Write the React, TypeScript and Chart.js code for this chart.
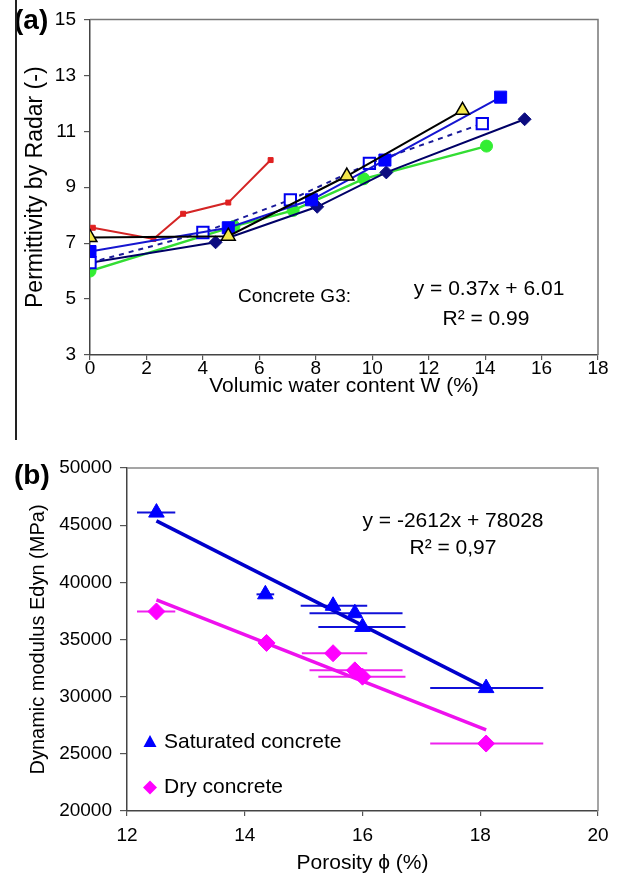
import React, { useEffect, useRef } from 'react';
import { Chart, registerables } from 'chart.js';

Chart.register(...registerables);

const FONT = '"Liberation Sans", Arial, Helvetica, sans-serif';

// ---------- Panel (a): permittivity vs water content ----------
const xTicksA = [0, 2, 4, 6, 8, 10, 12, 14, 16, 18];
const yTicksA = [3, 5, 7, 9, 11, 13, 15];

const redX = [0.1, 2.25, 3.3, 4.9, 6.4];
const redY = [7.55, 7.15, 8.05, 8.45, 9.97];
const triX = [0, 4.9, 9.1, 13.2];
const triY = [7.2, 7.25, 9.4, 11.75];
const sqX = [0, 4.9, 7.85, 10.45, 14.55];
const sqY = [6.7, 7.55, 8.55, 9.97, 12.22];
const openX = [0, 4.0, 7.1, 9.9, 13.9];
const openY = [6.3, 7.38, 8.55, 9.85, 11.27];
const diaX = [0, 4.45, 8.05, 10.5, 15.4];
const diaY = [6.3, 7.03, 8.3, 9.53, 11.43];
const grnX = [0, 5.1, 7.2, 9.7, 14.05];
const grnY = [6.0, 7.6, 8.17, 9.3, 10.47];

// ---------- Panel (b): dynamic modulus vs porosity ----------
const xTicksB = [12, 14, 16, 18, 20];
const yTicksB = [20000, 25000, 30000, 35000, 40000, 45000, 50000];

const satX = [12.5, 14.35, 15.5, 15.87, 16.0, 18.1];
const satY = [46100, 38950, 37950, 37300, 36100, 30750];
const satXLo = [12.17, 14.2, 14.95, 15.1, 15.25, 17.15];
const satXHi = [12.82, 14.5, 16.08, 16.68, 16.73, 19.07];

const dryX = [12.5, 14.37, 15.5, 15.87, 16.0, 18.1];
const dryY = [37450, 34700, 33800, 32300, 31750, 25900];
const dryXLo = [12.17, 14.37, 14.97, 15.1, 15.25, 17.15];
const dryXHi = [12.82, 14.37, 16.08, 16.68, 16.73, 19.07];

const satFitX = [12.5, 18.1];
const satFitY = [45378, 30751];
const dryFitX = [12.5, 18.1];
const dryFitY = [38470, 27100];

const pts = (xs: number[], ys: number[]) => xs.map((x, i) => ({ x, y: ys[i] }));

const frame = (color: string) => ({
  id: 'frame',
  afterDatasetsDraw(chart: any) {
    const { ctx, chartArea: a } = chart;
    ctx.save();
    ctx.strokeStyle = color;
    ctx.lineWidth = 1.5;
    ctx.beginPath();
    ctx.moveTo(a.left, a.top);
    ctx.lineTo(a.right, a.top);
    ctx.lineTo(a.right, a.bottom);
    ctx.stroke();
    ctx.restore();
  },
});

function axisCommon(min: number, max: number, ticks: number[], afterFit: (s: any) => void, title: string, titleSize: number, titlePad: any, tickPad: number, tickLen: number) {
  return {
    type: 'linear',
    min,
    max,
    afterFit,
    afterBuildTicks: (s: any) => {
      s.ticks = ticks.map((v) => ({ value: v }));
    },
    ticks: {
      color: '#000', font: { family: FONT, size: 19 }, padding: tickPad, maxRotation: 0, autoSkip: false,
      callback: (v: any) => String(v),
    },
    grid: { drawOnChartArea: false, drawTicks: true, tickLength: tickLen, color: '#555', lineWidth: 1.2 },
    border: { color: '#444', width: 1.5 },
    title: { display: true, text: title, color: '#000', font: { family: FONT, size: titleSize }, padding: titlePad },
  };
}

function ChartA() {
  const ref = useRef<HTMLCanvasElement>(null);
  useEffect(() => {
    const annot = {
      id: 'annotA',
      afterDraw(chart: any) {
        const { ctx } = chart;
        ctx.save();
        ctx.fillStyle = '#000';
        ctx.textBaseline = 'middle';
        ctx.font = `19px ${FONT}`;
        ctx.textAlign = 'left';
        ctx.fillText('Concrete G3:', 238, 297);
        ctx.font = `21px ${FONT}`;
        ctx.textAlign = 'center';
        ctx.fillText('y = 0.37x + 6.01', 489, 289);
        ctx.fillText('R² = 0.99', 486, 319);
        ctx.font = `bold 28px ${FONT}`;
        ctx.textAlign = 'left';
        ctx.fillText('(a)', 14, 21);
        ctx.restore();
      },
    };
    const chart = new Chart(ref.current!, {
      type: 'scatter',
      data: {
        datasets: [
          {
            data: pts(triX, triY), showLine: true, borderColor: '#000', borderWidth: 2,
            pointStyle: 'triangle', pointRadius: 8, pointBackgroundColor: '#f2e64a', pointBorderColor: '#000', pointBorderWidth: 1.5,
          },
          {
            data: pts(sqX, sqY), showLine: true, borderColor: '#1515d0', borderWidth: 2,
            pointStyle: 'rect', pointRadius: 8.5, pointBackgroundColor: '#0000ff', pointBorderColor: '#0000ff', pointBorderWidth: 1,
          },
          {
            data: pts(openX, openY), showLine: true, borderColor: '#1a1a9a', borderWidth: 2, borderDash: [5, 5],
            pointStyle: 'rect', pointRadius: 8, pointBackgroundColor: '#ffffff', pointBorderColor: '#0000ee', pointBorderWidth: 2,
          },
          {
            data: pts(diaX, diaY), showLine: true, borderColor: '#000066', borderWidth: 2,
            pointStyle: 'rectRot', pointRadius: 6.5, pointBackgroundColor: '#0c0c80', pointBorderColor: '#0c0c80', pointBorderWidth: 1,
          },
          {
            data: pts(grnX, grnY), showLine: true, borderColor: '#33dd33', borderWidth: 2.5,
            pointStyle: 'circle', pointRadius: 6, pointBackgroundColor: '#33ee33', pointBorderColor: '#33ee33', pointBorderWidth: 1,
          },
          {
            data: pts(redX, redY), showLine: true, borderColor: '#d42525', borderWidth: 2,
            pointStyle: 'rect', pointRadius: 3.5, pointBackgroundColor: '#e02020', pointBorderColor: '#e02020', pointBorderWidth: 1,
          },
        ],
      },
      options: {
        responsive: false,
        animation: false,
        devicePixelRatio: 1,
        layout: { padding: { left: 0, top: 17, right: 24, bottom: 40 } },
        plugins: { legend: { display: false }, tooltip: { enabled: false } },
        scales: {
          x: axisCommon(0, 18, xTicksA, (s: any) => { s.height = 45; }, 'Volumic water content W (%)', 21, { top: 0, bottom: 1 }, -3, 5),
          y: axisCommon(3, 15, yTicksA, (s: any) => { s.width = 90; }, 'Permittivity by Radar (-)', 23, { top: 22, bottom: 0 }, 8, 6),
        },
      } as any,
      plugins: [frame('#777'), annot],
    } as any);
    return () => chart.destroy();
  }, []);
  return <canvas ref={ref} width={622} height={440} style={{ position: 'absolute', left: 0, top: 0, display: 'block' }} />;
}

function ChartB() {
  const ref = useRef<HTMLCanvasElement>(null);
  useEffect(() => {
    const errBars = {
      id: 'errBars',
      beforeDatasetsDraw(chart: any) {
        const { ctx, scales } = chart;
        const draw = (lo: number[], hi: number[], ys: number[], color: string) => {
          ctx.strokeStyle = color;
          ctx.lineWidth = 2;
          ys.forEach((y, i) => {
            if (hi[i] - lo[i] <= 0) return;
            const py = scales.y.getPixelForValue(y);
            ctx.beginPath();
            ctx.moveTo(scales.x.getPixelForValue(lo[i]), py);
            ctx.lineTo(scales.x.getPixelForValue(hi[i]), py);
            ctx.stroke();
          });
        };
        ctx.save();
        draw(satXLo, satXHi, satY, '#1010d8');
        draw(dryXLo, dryXHi, dryY, '#ee22ee');
        ctx.restore();
      },
    };
    const annot = {
      id: 'annotB',
      afterDraw(chart: any) {
        const { ctx } = chart;
        ctx.save();
        ctx.fillStyle = '#000';
        ctx.textBaseline = 'middle';
        ctx.font = `21px ${FONT}`;
        ctx.textAlign = 'center';
        ctx.fillText('y = -2612x + 78028', 453, 81);
        ctx.fillText('R² = 0,97', 453, 108);
        // legend
        ctx.textAlign = 'left';
        ctx.fillText('Saturated concrete', 164, 302);
        ctx.fillText('Dry concrete', 164, 347);
        ctx.fillStyle = '#0000ff';
        ctx.beginPath();
        ctx.moveTo(150, 295);
        ctx.lineTo(156.5, 307);
        ctx.lineTo(143.5, 307);
        ctx.closePath();
        ctx.fill();
        ctx.fillStyle = '#ff00ff';
        ctx.beginPath();
        ctx.moveTo(150, 340.5);
        ctx.lineTo(157, 347.5);
        ctx.lineTo(150, 354.5);
        ctx.lineTo(143, 347.5);
        ctx.closePath();
        ctx.fill();
        ctx.fillStyle = '#000';
        ctx.font = `bold 28px ${FONT}`;
        ctx.fillText('(b)', 14, 36);
        ctx.restore();
      },
    };
    const chart = new Chart(ref.current!, {
      type: 'scatter',
      data: {
        datasets: [
          {
            data: pts(satX, satY), showLine: false,
            pointStyle: 'triangle', pointRadius: 9, pointBackgroundColor: '#0000ff', pointBorderColor: '#0000ff', pointBorderWidth: 1,
          },
          {
            data: pts(dryX, dryY), showLine: false,
            pointStyle: 'rectRot', pointRadius: 8.5, pointBackgroundColor: '#ff00ff', pointBorderColor: '#ff00ff', pointBorderWidth: 1,
          },
          {
            data: pts(satFitX, satFitY), showLine: true, borderColor: '#0000cc', borderWidth: 3.5, pointRadius: 0,
          },
          {
            data: pts(dryFitX, dryFitY), showLine: true, borderColor: '#ee11ee', borderWidth: 3.5, pointRadius: 0,
          },
        ],
      },
      options: {
        responsive: false,
        animation: false,
        devicePixelRatio: 1,
        layout: { padding: { left: 0, top: 28, right: 24, bottom: 0 } },
        plugins: { legend: { display: false }, tooltip: { enabled: false } },
        scales: {
          x: axisCommon(12, 20, xTicksB, (s: any) => { s.height = 66; }, 'Porosity ϕ (%)', 21, { top: 0, bottom: 1 }, 8, 5),
          y: axisCommon(20000, 50000, yTicksB, (s: any) => { s.width = 127; }, 'Dynamic modulus Edyn (MPa)', 20, { top: 26, bottom: 0 }, 8, 7),
        },
      } as any,
      plugins: [frame('#888'), errBars, annot],
    } as any);
    return () => chart.destroy();
  }, []);
  return <canvas ref={ref} width={622} height={437} style={{ position: 'absolute', left: 0, top: 440, display: 'block' }} />;
}

export default function App() {
  return (
    <div style={{ position: 'absolute', left: 0, top: 0, width: 622, height: 877, background: '#fff', overflow: 'hidden' }}>
      <ChartA />
      <ChartB />
      <div style={{ position: 'absolute', left: 15, top: 0, width: 1.5, height: 440, background: '#222' }} />
    </div>
  );
}
